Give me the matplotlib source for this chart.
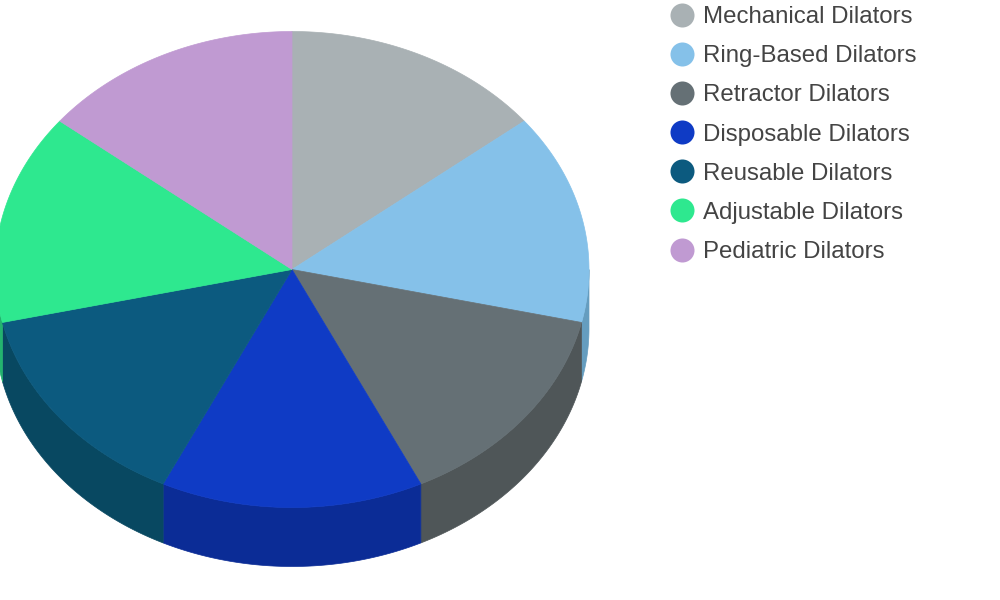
import numpy as np
import matplotlib
matplotlib.use("Agg")
import matplotlib.pyplot as plt
from matplotlib.lines import Line2D

plt.rcParams['font.family'] = ['Liberation Sans', 'DejaVu Sans']

categories = ['Mechanical Dilators', 'Ring-Based Dilators', 'Retractor Dilators',
              'Disposable Dilators', 'Reusable Dilators', 'Adjustable Dilators',
              'Pediatric Dilators']
values = [1, 1, 1, 1, 1, 1, 1]
colors = ['#A9B1B4', '#85C1E9', '#657075', '#0F3BC5', '#0C5A7F', '#2EE88F', '#C09AD2']
side_colors = ['#828889', '#659DBF', '#4F5658', '#0B2C96', '#084861', '#23B36E', '#94769F']

# geometrie de la tarte, en pixels de l'image
cx, cy = 292, 269.5
rx, ry = 297, 238
depth = 59 / ry

fig = plt.figure(figsize=(10, 6), dpi=100)
ax = fig.add_axes([0, 0, 1, 1])

# angle compte depuis le haut, sens horaire
edges = np.cumsum([0] + values) / sum(values) * 2 * np.pi

# les flancs d'abord, seulement la moitie basse est visible
for i in range(len(values)):
    a0 = max(edges[i], np.pi / 2)
    a1 = min(edges[i + 1], 3 * np.pi / 2)
    if a1 <= a0:
        continue
    t = np.linspace(a0, a1, 80)
    x = np.sin(t)
    y = np.cos(t)
    ax.fill(np.r_[x, x[::-1]], np.r_[y, y[::-1] - depth],
            color=side_colors[i], lw=0.5, zorder=1)

# le dessus
for i in range(len(values)):
    t = np.linspace(edges[i], edges[i + 1], 120)
    ax.fill(np.r_[0, np.sin(t)], np.r_[0, np.cos(t)],
            color=colors[i], lw=0.5, zorder=2)

ax.set_xlim(-cx / rx, (1000 - cx) / rx)
ax.set_ylim(-(600 - cy) / ry, cy / ry)
ax.axis('off')

handles = [Line2D([], [], linestyle='none', marker='o', markersize=17.3,
                  markerfacecolor=c, markeredgewidth=0) for c in colors]
fig.legend(handles, categories, loc='upper left', bbox_to_anchor=(0.6605, 1.002),
           frameon=False, fontsize=17.3, labelcolor='#444444', labelspacing=0.715,
           handlelength=1.2, handletextpad=0.28, borderpad=0.3, borderaxespad=0)

fig.savefig('out.png', dpi=100)
